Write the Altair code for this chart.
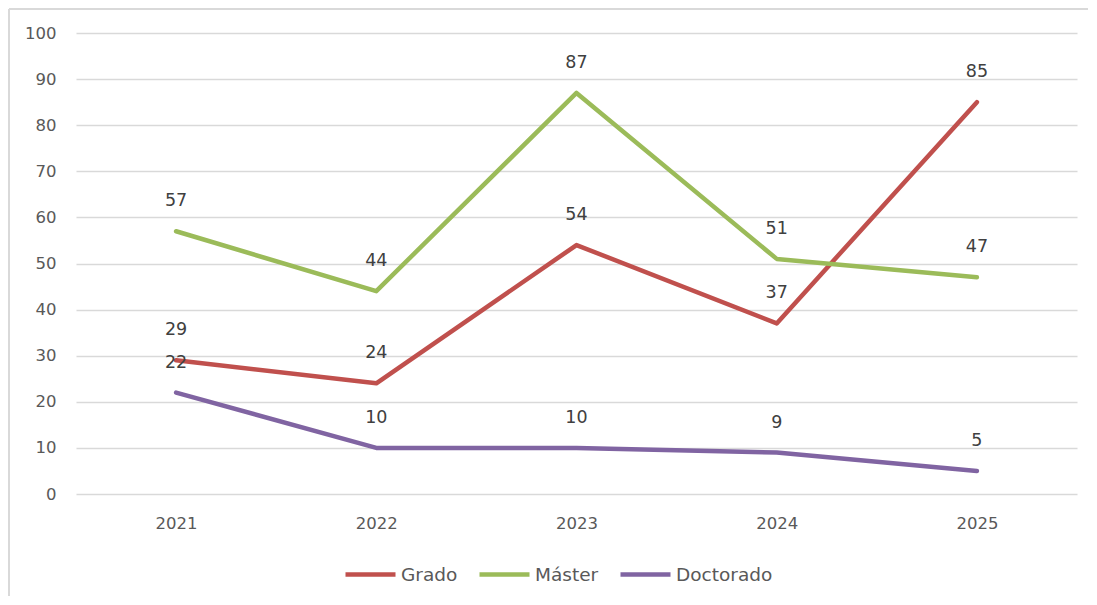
import altair as alt
import pandas as pd

years = ["2021", "2022", "2023", "2024", "2025"]
series_names = ["Grado", "Máster", "Doctorado"]
grado = [29, 24, 54, 37, 85]
master = [57, 44, 87, 51, 47]
doctorado = [22, 10, 10, 9, 5]
colors = ["#C0504D", "#9BBB59", "#8064A2"]
y_ticks = [0, 10, 20, 30, 40, 50, 60, 70, 80, 90, 100]

rows = []
for name, vals in zip(series_names, [grado, master, doctorado]):
    for yr, v in zip(years, vals):
        rows.append({"Año": yr, "Serie": name, "Valor": v})
df = pd.DataFrame(rows)

FONT = "DejaVu Sans"
W, H = 1001, 461

x_enc = alt.X("Año:O", scale=alt.Scale(type="point", padding=0.5, domain=years),
              axis=alt.Axis(title=None, labelAngle=0, ticks=False, domain=False,
                            labelPadding=21, labelFontSize=16.5, labelColor="#595959",
                            labelFont=FONT, grid=False))
y_enc = alt.Y("Valor:Q", scale=alt.Scale(domain=[0, 100], nice=False),
              axis=alt.Axis(title=None, values=y_ticks, ticks=False, domain=False,
                            labelPadding=20, labelFontSize=16.5, labelColor="#595959",
                            labelFont=FONT, grid=True, gridColor="#D9D9D9",
                            gridWidth=1.3))
color_enc = alt.Color("Serie:N", scale=alt.Scale(domain=series_names, range=colors),
                      legend=alt.Legend(title=None, orient="none", direction="horizontal",
                                        legendX=267, legendY=514,
                                        symbolType="stroke", symbolSize=2500,
                                        symbolStrokeWidth=4.5, labelFontSize=18.5,
                                        labelFont=FONT, labelColor="#595959",
                                        labelOffset=3, columnPadding=12))

lines = alt.Chart(df).mark_line(strokeWidth=4.5, strokeCap="round", strokeJoin="round").encode(
    x=x_enc, y=y_enc, color=color_enc, detail="Serie:N"
)
labels = alt.Chart(df).mark_text(dy=-30, fontSize=17.5, font=FONT, color="#404040",
                                 baseline="middle", align="center").encode(
    x=alt.X("Año:O", scale=alt.Scale(type="point", padding=0.5, domain=years)),
    y="Valor:Q",
    text="Valor:Q",
)
border_left = alt.Chart(df).mark_rule(color="#D9D9D9", strokeWidth=2, clip=False).encode(
    x=alt.value(-67), y=alt.value(-24), y2=alt.value(563)
)
border_top = alt.Chart(df).mark_rule(color="#D9D9D9", strokeWidth=2, clip=False).encode(
    x=alt.value(-67), x2=alt.value(1012), y=alt.value(-24)
)

chart = alt.layer(border_left, border_top, lines, labels).properties(
    width=W, height=H,
    background="white",
    autosize=alt.AutoSizeParams(type="none"),
    padding={"left": 68, "top": 25, "right": 12, "bottom": 103},
).configure_view(stroke=None)

chart.save("out.html", embed_options={"renderer": "svg", "actions": False})
